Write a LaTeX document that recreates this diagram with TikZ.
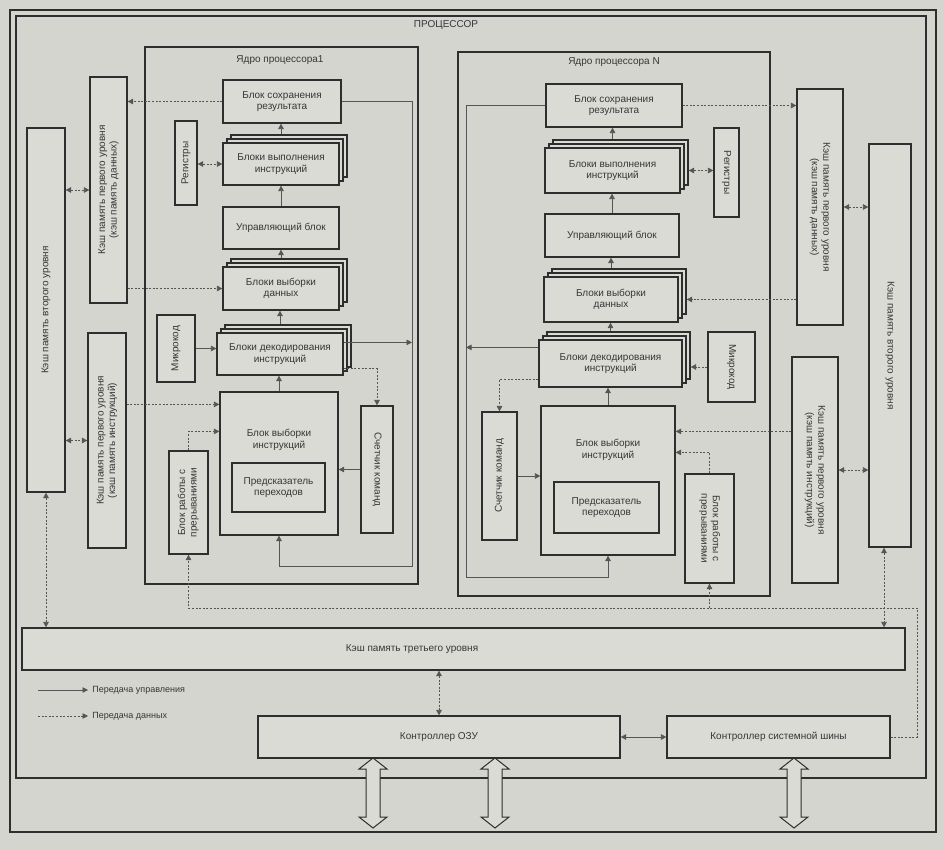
\documentclass[tikz,border=0pt]{standalone}
\usepackage{fontspec}
\usepackage{graphicx}
\setmainfont{Liberation Sans}
\usetikzlibrary{arrows.meta,shadows,calc}
\definecolor{paper}{HTML}{D5D5D0}
\definecolor{boxfill}{HTML}{DBDBD6}
\definecolor{ink}{HTML}{2E2E2E}
\definecolor{wire}{HTML}{555555}
\definecolor{txt}{HTML}{363636}
\newcommand\vtxt[2]{\rotatebox{#1}{\begin{tabular}{@{}c@{}}#2\end{tabular}}}
\newcommand\busarr[3]{%
  \filldraw[fill=boxfill,draw=ink,line width=1pt]
  (#1-7,#2+11) -- (#1-14,#2+11) -- (#1,#2) -- (#1+14,#2+11) -- (#1+7,#2+11)
  -- (#1+7,#3-11) -- (#1+14,#3-11) -- (#1,#3) -- (#1-14,#3-11) -- (#1-7,#3-11) -- cycle;}
\begin{document}
\begin{tikzpicture}[x=1pt,y=-1pt,
  font=\fontsize{10}{11.5}\selectfont,
  >={Triangle[width=5.5pt,length=5.5pt]},
  box/.style={draw=ink,line width=1.2pt,fill=boxfill,inner sep=1pt,align=center,text=txt},
  stack/.style={box,double copy shadow={shadow xshift=4pt,shadow yshift=4pt}},
  lbl/.style={align=center,text=txt,inner sep=0pt},
  frame/.style={draw=ink,line width=1.4pt},
  ctrl/.style={draw=wire,line width=0.7pt},
  data/.style={draw=wire,line width=0.7pt,dash pattern=on 2pt off 1.6pt}]
\useasboundingbox (0,0) rectangle (944,850);
\fill[paper] (0,0) rectangle (944,850);

% frames
\draw[frame] (10,10) rectangle (936,832);
\draw[frame] (16,16) rectangle (926,778);
\node[lbl] (proc) at (446,25) {ПРОЦЕССОР};

% cores
\node[draw=ink,line width=1.3pt,minimum width=273,minimum height=537,inner sep=0] (core1) at (281.5,315.5) {};
\node[lbl] (core1t) at (280,60) {Ядро процессора1};
\node[draw=ink,line width=1.3pt,minimum width=312,minimum height=544,inner sep=0] (coreN) at (614,324) {};
\node[lbl] (coreNt) at (614,62) {Ядро процессора N};

% ---- core 1 ----
\node[box,minimum width=118,minimum height=43] (save1) at (282,101.5) {Блок сохранения\\результата};
\node[box,minimum width=22,minimum height=84] (reg1) at (186,163) {\vtxt{90}{Регистры}};
\node[stack,minimum width=116,minimum height=42] (exe1) at (281,164) {Блоки выполнения\\инструкций};
\node[box,minimum width=116,minimum height=42] (ctl1) at (281,228) {Управляющий блок};
\node[stack,minimum width=116,minimum height=43] (dd1) at (281,288.5) {Блоки выборки\\данных};
\node[box,minimum width=38,minimum height=67] (mc1) at (176,348.5) {\vtxt{90}{Микрокод}};
\node[stack,minimum width=126,minimum height=42] (dec1) at (280,354) {Блоки декодирования\\инструкций};
\node[box,minimum width=118,minimum height=143] (fetch1) at (279,463.5) {};
\node[lbl] (fetch1t) at (279,440) {Блок выборки\\инструкций};
\node[box,minimum width=93,minimum height=49] (pred1) at (278.5,487.5) {Предсказатель\\переходов};
\node[box,minimum width=32,minimum height=127] (pc1) at (377,469.5) {\vtxt{-90}{Счетчик команд}};
\node[box,minimum width=39,minimum height=103] (irq1) at (188.5,502.5) {\vtxt{90}{Блок работы с\\прерываниями}};

% ---- left caches ----
\node[box,minimum width=38,minimum height=364] (l2a) at (46,310) {\vtxt{90}{Кэш память второго уровня}};
\node[box,minimum width=37,minimum height=226] (l1da) at (108.5,190) {\vtxt{90}{Кэш память первого уровня\\(кэш память данных)}};
\node[box,minimum width=38,minimum height=215] (l1ia) at (107,440.5) {\vtxt{90}{Кэш память первого уровня\\(кэш память инструкций)}};

% ---- core N ----
\node[box,minimum width=136,minimum height=43] (saveN) at (614,105.5) {Блок сохранения\\результата};
\node[stack,minimum width=135,minimum height=45] (exeN) at (612.5,170.5) {Блоки выполнения\\инструкций};
\node[box,minimum width=25,minimum height=89] (regN) at (726.5,172.5) {\vtxt{-90}{Регистры}};
\node[box,minimum width=134,minimum height=43] (ctlN) at (612,235.5) {Управляющий блок};
\node[stack,minimum width=134,minimum height=45] (ddN) at (611,299.5) {Блоки выборки\\данных};
\node[stack,minimum width=143,minimum height=47] (decN) at (610.5,363.5) {Блоки декодирования\\инструкций};
\node[box,minimum width=47,minimum height=70] (mcN) at (731.5,367) {\vtxt{-90}{Микрокод}};
\node[box,minimum width=134,minimum height=149] (fetchN) at (608,480.5) {};
\node[lbl] (fetchNt) at (608,450) {Блок выборки\\инструкций};
\node[box,minimum width=105,minimum height=51] (predN) at (606.5,507.5) {Предсказатель\\переходов};
\node[box,minimum width=35,minimum height=128] (pcN) at (499.5,476) {\vtxt{90}{Счетчик команд}};
\node[box,minimum width=49,minimum height=109] (irqN) at (709.5,528.5) {\vtxt{-90}{Блок работы с\\прерываниями}};

% ---- right caches ----
\node[box,minimum width=46,minimum height=236] (l1db) at (820,207) {\vtxt{-90}{Кэш память первого уровня\\(кэш память данных)}};
\node[box,minimum width=42,minimum height=403] (l2b) at (890,345.5) {\vtxt{-90}{Кэш память второго уровня}};
\node[box,minimum width=46,minimum height=226] (l1ib) at (815,470) {\vtxt{-90}{Кэш память первого уровня\\(кэш память инструкций)}};

% ---- bottom ----
\node[box,minimum width=883,minimum height=42] (l3) at (463.5,649) {};
\node[lbl] (l3t) at (412,649) {Кэш память третьего уровня};
\node[box,minimum width=362,minimum height=42] (ozu) at (439,737) {Контроллер ОЗУ};
\node[box,minimum width=223,minimum height=42] (sb) at (778.5,737) {Контроллер системной шины};

% legend
\coordinate (lg1a) at (38,690); \coordinate (lg1b) at (88,690);
\coordinate (lg2a) at (38,716); \coordinate (lg2b) at (88,716);
\draw[ctrl,->] (lg1a) -- (lg1b) node[right,lbl,xshift=4pt,font=\fontsize{9}{10}\selectfont] (lg1t) {Передача управления};
\draw[data,->] (lg2a) -- (lg2b) node[right,lbl,xshift=4pt,font=\fontsize{9}{10}\selectfont] (lg2t) {Передача данных};

% ---- connectors core 1 ----
\coordinate (fb1) at (412,566);
\coordinate (dec1o) at ($(dec1.north east)+(0,10)$);
\coordinate (fetch1in) at ($(fetch1.north west)+(0,13)$);
\coordinate (fetch1irq) at ($(fetch1.north west)+(0,40)$);
\coordinate (dec1pc) at ($(dec1.south east)+(0,-7)$);
\draw[data,->] (save1.west) -- (save1.west -| l1da.east);
\draw[ctrl,->] (save1.east) -| (fb1) -| (fetch1.south);
\draw[ctrl,->] (fetch1.north) -- (fetch1.north |- dec1.south);
\draw[ctrl,->] ([yshift=8pt]dec1.north) -- (dec1.north |- dd1.south);
\draw[ctrl,->] ([yshift=8pt]dd1.north) -- (dd1.north |- ctl1.south);
\draw[ctrl,->] (ctl1.north) -- (ctl1.north |- exe1.south);
\draw[ctrl,->] ([yshift=8pt]exe1.north) -- (exe1.north |- save1.south);
\draw[data,<->] (reg1.east |- exe1.west) -- (exe1.west);
\draw[data,->] (l1da.east |- dd1.west) -- (dd1.west);
\draw[ctrl,->] (mc1.east) -- (mc1.east -| dec1.west);
\draw[data,->] (l1ia.east |- fetch1in) -- (fetch1in);
\draw[data,->] (irq1.north) |- (fetch1irq);
\draw[ctrl,->] (pc1.west) -- (pc1.west -| fetch1.east);
\draw[data,->] (dec1pc) -| (pc1.north);
\draw[ctrl,->] (dec1o) -- (dec1o -| fb1);
\draw[data,<->] (l2a.east |- l1da.west) -- (l1da.west);
\draw[data,<->] (l2a.east |- l1ia.west) -- (l1ia.west);
\draw[data,<->] (l2a.south) -- (l2a.south |- l3.north);

% ---- connectors core N ----
\coordinate (fbN) at (466,577);
\coordinate (decNo) at ($(decN.north west)+(0,8)$);
\coordinate (fetchNin) at ($(fetchN.north east)+(0,26)$);
\coordinate (fetchNirq) at ($(fetchN.north east)+(0,47)$);
\coordinate (decNpc) at ($(decN.south west)+(0,-8)$);
\draw[data,->] (saveN.east) -- (saveN.east -| l1db.west);
\draw[ctrl,->] (saveN.west) -| (fbN) -| (fetchN.south);
\draw[ctrl,->] (fetchN.north) -- (fetchN.north |- decN.south);
\draw[ctrl,->] ([yshift=8pt]decN.north) -- (decN.north |- ddN.south);
\draw[ctrl,->] ([yshift=8pt]ddN.north) -- (ddN.north |- ctlN.south);
\draw[ctrl,->] (ctlN.north) -- (ctlN.north |- exeN.south);
\draw[ctrl,->] ([yshift=8pt]exeN.north) -- (exeN.north |- saveN.south);
\draw[data,<->] ([xshift=8pt]exeN.east) -- (exeN.east -| regN.west);
\draw[data,->] (l1db.west |- ddN.east) -- ([xshift=8pt]ddN.east);
\draw[data,->] (mcN.west) -- ([xshift=8pt]mcN.west -| decN.east);
\draw[data,->] (l1ib.west |- fetchNin) -- (fetchNin);
\draw[data,->] (irqN.north) |- (fetchNirq);
\draw[ctrl,->] (pcN.east) -- (pcN.east -| fetchN.west);
\draw[data,->] (decNpc) -| (pcN.north);
\draw[ctrl,->] (decNo) -- (decNo -| fbN);
\draw[data,<->] (l1db.east) -- (l1db.east -| l2b.west);
\draw[data,<->] (l1ib.east) -- (l1ib.east -| l2b.west);
\coordinate (l2bs) at ([xshift=-6pt]l2b.south);
\draw[data,<->] (l2bs) -- (l2bs |- l3.north);

% ---- bottom connectors ----
\coordinate (ib) at (917,608);
\draw[data,->] (sb.east) -| (ib) -| (irq1.south);
\draw[data,->] (irqN.south |- ib) -- (irqN.south);
\draw[data,<->] (ozu.north |- l3.south) -- (ozu.north);
\draw[ctrl,<->] (ozu.east) -- (sb.west);

% bus arrows
\busarr{373}{758}{828}
\busarr{495}{758}{828}
\busarr{794}{758}{828}
\end{tikzpicture}
\end{document}
